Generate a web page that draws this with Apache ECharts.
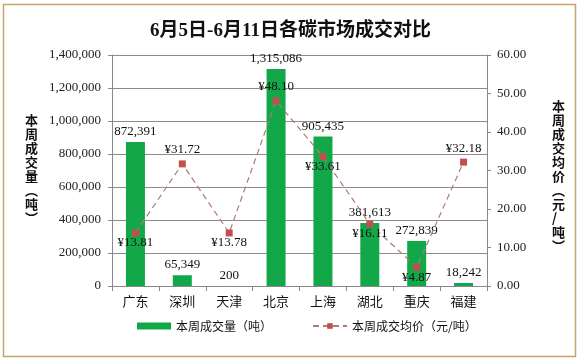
<!DOCTYPE html>
<html>
<head>
<meta charset="utf-8">
<script src="https://cdn.jsdelivr.net/npm/echarts@6/dist/echarts.min.js"></script>
<style>html,body{margin:0;padding:0;background:#fff;}#c{width:581px;height:363px;}</style>
</head>
<body>
<div id="c"></div>
<script>
var categories = ['广东', '深圳', '天津', '北京', '上海', '湖北', '重庆', '福建'];
var volumes = [872391, 65349, 200, 1315086, 905435, 381613, 272839, 18242];
var prices = [13.81, 31.72, 13.78, 48.10, 33.61, 16.11, 4.87, 32.18];
var priceLabelPos = ['bottom', 'top', 'bottom', 'top', 'bottom', 'bottom', 'bottom', 'top'];
var volumeTicks = [0, 200000, 400000, 600000, 800000, 1000000, 1200000, 1400000];
var priceTicks = [0, 10, 20, 30, 40, 50, 60];

function fmt(n) { return String(n).replace(/\B(?=(\d{3})+(?!\d))/g, ','); }

var serif = '"Liberation Serif", "Noto Sans CJK SC", serif';
var cjk = '"Noto Sans CJK SC", sans-serif';

var chart = echarts.init(document.getElementById('c'), null, {renderer: 'canvas'});
var option = {
  backgroundColor: '#fff',
  animation: false,
  title: {
    text: '6月5日-6月11日各碳市场成交对比',
    left: 'center',
    top: 17,
    textStyle: {fontFamily: serif, fontSize: 19, fontWeight: 'bold', color: '#111'}
  },
  grid: {left: 112, right: 94, top: 55, bottom: 77},
  legend: {
    bottom: 26,
    left: 132,
    itemGap: 40,
    textStyle: {fontFamily: cjk, fontSize: 12, color: '#111'},
    data: [
      {name: '本周成交量（吨）', icon: 'rect', itemStyle: {color: '#12a84a'}},
      {name: '本周成交均价（元/吨）'}
    ],
    itemWidth: 34,
    itemHeight: 7
  },
  graphic: [
    {type: 'rect', shape: {x: 3.5, y: 4.5, width: 572, height: 352}, style: {fill: 'none', stroke: '#c9a36b', lineWidth: 1.5}, silent: true},
    {type: 'text', left: 25, top: 113, style: {text: '本\n周\n成\n交\n量\n︵\n吨\n︶', fontFamily: cjk, fontSize: 13, fontWeight: 'bold', lineHeight: 14, fill: '#111', align: 'center'}},
    {type: 'text', left: 552, top: 99, style: {text: '本\n周\n成\n交\n均\n价\n︵\n元\n/\n吨\n︶', fontFamily: cjk, fontSize: 13, fontWeight: 'bold', lineHeight: 14, fill: '#111', align: 'center'}}
  ],
  xAxis: {
    type: 'category',
    data: categories,
    axisLine: {lineStyle: {color: '#888', width: 1}},
    axisTick: {show: true, length: 5, lineStyle: {color: '#888'}},
    axisLabel: {fontFamily: cjk, fontSize: 13, color: '#111', margin: 9}
  },
  yAxis: [
    {
      type: 'value', min: volumeTicks[0], max: volumeTicks[volumeTicks.length - 1], interval: volumeTicks[1] - volumeTicks[0],
      axisLine: {show: true, lineStyle: {color: '#888'}},
      axisTick: {show: true, length: 4, lineStyle: {color: '#888'}},
      splitLine: {show: true, lineStyle: {color: '#8c8c8c', width: 1}},
      axisLabel: {fontFamily: serif, fontSize: 13, color: '#222', margin: 11, formatter: function (v) { return fmt(v); }}
    },
    {
      type: 'value', min: priceTicks[0], max: priceTicks[priceTicks.length - 1], interval: priceTicks[1] - priceTicks[0],
      axisLine: {show: true, lineStyle: {color: '#888'}},
      axisTick: {show: true, length: 4, lineStyle: {color: '#888'}},
      splitLine: {show: false},
      axisLabel: {fontFamily: serif, fontSize: 13, color: '#222', margin: 10, formatter: function (v) { return v.toFixed(2); }}
    }
  ],
  series: [
    {
      name: '本周成交量（吨）',
      type: 'bar',
      yAxisIndex: 0,
      barWidth: 19,
      data: volumes,
      itemStyle: {color: '#12a84a'},
      label: {show: true, position: 'top', distance: 4, fontFamily: serif, fontSize: 13, color: '#111', formatter: function (p) { return fmt(p.value); }}
    },
    {
      name: '本周成交均价（元/吨）',
      type: 'line',
      yAxisIndex: 1,
      symbol: 'rect',
      symbolSize: 7,
      itemStyle: {color: '#c0504d'},
      lineStyle: {color: '#b07a78', width: 1.2, type: [6, 4]},
      data: prices.map(function (v, i) {
        return {value: v, label: {position: priceLabelPos[i], distance: priceLabelPos[i] === 'top' ? 4 : 0}};
      }),
      label: {show: true, fontFamily: serif, fontSize: 13, color: '#111', formatter: function (p) { return '¥' + p.value.toFixed(2); }},
      z: 3
    }
  ]
};
chart.setOption(option);
</script>
</body>
</html>
